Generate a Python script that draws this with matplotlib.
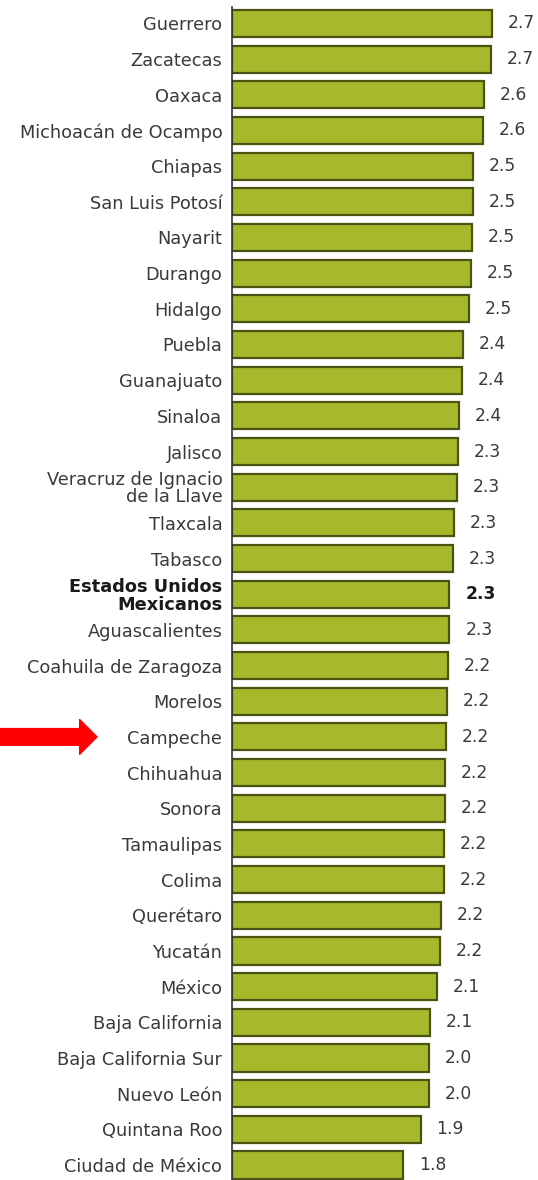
import matplotlib.pyplot as plt
import numpy as np

states = ['Guerrero', 'Zacatecas', 'Oaxaca', 'Michoacán de Ocampo', 'Chiapas',
          'San Luis Potosí', 'Nayarit', 'Durango', 'Hidalgo', 'Puebla',
          'Guanajuato', 'Sinaloa', 'Jalisco', 'Veracruz de Ignacio\nde la Llave',
          'Tlaxcala', 'Tabasco', 'Estados Unidos\nMexicanos', 'Aguascalientes',
          'Coahuila de Zaragoza', 'Morelos', 'Campeche', 'Chihuahua', 'Sonora',
          'Tamaulipas', 'Colima', 'Querétaro', 'Yucatán', 'México',
          'Baja California', 'Baja California Sur', 'Nuevo León',
          'Quintana Roo', 'Ciudad de México']
# bar lengths
values = [2.70, 2.69, 2.62, 2.61, 2.50, 2.50, 2.49, 2.48, 2.46, 2.40,
          2.39, 2.36, 2.35, 2.34, 2.31, 2.30, 2.26, 2.26, 2.24, 2.23,
          2.22, 2.21, 2.21, 2.20, 2.20, 2.17, 2.16, 2.13, 2.06, 2.05,
          2.05, 1.96, 1.78]
# printed value labels
printed = ['2.7', '2.7', '2.6', '2.6', '2.5', '2.5', '2.5', '2.5', '2.5', '2.4',
           '2.4', '2.4', '2.3', '2.3', '2.3', '2.3', '2.3', '2.3', '2.2', '2.2',
           '2.2', '2.2', '2.2', '2.2', '2.2', '2.2', '2.2', '2.1', '2.1', '2.0',
           '2.0', '1.9', '1.8']
national = 'Estados Unidos\nMexicanos'
highlight = 'Campeche'

fig = plt.figure(figsize=(5.38, 11.8), dpi=100)
ax = fig.add_axes([232 / 538, 0, 1 - 232 / 538, 1 - 7 / 1180])

y = np.arange(len(states))
ax.barh(y, values, height=0.76, color='#A8B82C', edgecolor='#4A5314', linewidth=1.6)

ax.set_ylim(len(states) - 1 + 0.42, -0.46)
ax.set_xlim(0, 3.18)
ax.set_yticks(y)
ax.set_yticklabels(states, fontsize=12.8, color='#3A3A3A', linespacing=0.95)
for lbl in ax.get_yticklabels():
    if lbl.get_text() == national:
        lbl.set_fontweight('bold')
        lbl.set_color('#1A1A1A')
ax.tick_params(axis='y', length=0, pad=7)
ax.set_xticks([])
for s in ['top', 'right', 'bottom']:
    ax.spines[s].set_visible(False)
ax.spines['left'].set_color('#333333')
ax.spines['left'].set_linewidth(1.2)

for yi, v, t, name in zip(y, values, printed, states):
    ax.text(v + 0.165, yi, t, va='center', ha='left', fontsize=12.3,
            color='#1A1A1A' if name == national else '#3A3A3A',
            fontweight='bold' if name == national else 'normal')

# red arrow pointing at Campeche
ci = states.index(highlight)
ax.annotate('', xy=(97 / 538, ci), xycoords=(fig.transFigure, ax.transData),
            xytext=(0, ci), textcoords=(fig.transFigure, ax.transData),
            arrowprops=dict(arrowstyle='simple,head_length=0.5,head_width=1.0,tail_width=0.48',
                            color='#FF0000', mutation_scale=25, shrinkA=0, shrinkB=0),
            annotation_clip=False)

fig.savefig('out.png', dpi=100)
